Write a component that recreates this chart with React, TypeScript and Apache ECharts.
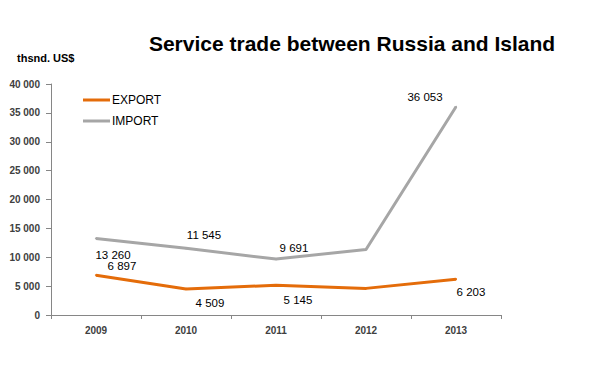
import React, { useEffect, useRef } from "react";
import * as echarts from "echarts";

const years = ["2009", "2010", "2011", "2012", "2013"];
const exportValues = [6897, 4509, 5145, 4610, 6203];
const importValues = [13260, 11545, 9691, 11350, 36053];
const exportShowLabel = [true, true, true, false, true];
const importShowLabel = [true, true, true, false, true];

const fmt = (v: number) => String(v).replace(/\B(?=(\d{3})+(?!\d))/g, " ");

export default function App() {
  const ref = useRef<HTMLDivElement>(null);
  useEffect(() => {
    if (!ref.current) return;
    const chart = echarts.init(ref.current, null, { renderer: "svg" });
    const exportOffsets = [[26, -9], [24, 14], [22, 15], [0, 0], [15, 13]];
    const importOffsets = [[17, 17], [18, -13], [18, -11], [0, 0], [-31, -10]];
    const labelStyle = {
      position: "inside" as const,
      fontFamily: "Liberation Sans, Arial, sans-serif",
      fontSize: 11.5,
      color: "#000",
      align: "center" as const,
      verticalAlign: "middle" as const,
    };
    const mk = (vals: number[], show: boolean[], offs: number[][]) =>
      vals.map((v, i) => ({
        value: v,
        label: { show: show[i], offset: offs[i], formatter: () => fmt(v), ...labelStyle },
      }));
    chart.setOption({
      animation: false,
      backgroundColor: "#fff",
      title: {
        text: "Service trade between Russia and Island",
        left: 352,
        top: 30,
        textAlign: "center",
        textStyle: {
          fontFamily: "Liberation Sans, Arial, sans-serif",
          fontWeight: "bold",
          fontSize: 21,
          lineHeight: 26,
          color: "#000",
        },
        padding: 0,
      },
      graphic: [
        {
          type: "text",
          left: 17,
          top: 52,
          style: {
            text: "thsnd. US$",
            font: "bold 11px 'Liberation Sans', Arial, sans-serif",
            fill: "#000",
          },
        },
      ],
      legend: {
        orient: "vertical",
        left: 78,
        top: 89,
        itemGap: 9,
        itemWidth: 27,
        itemHeight: 3,
        icon: "rect",
        textStyle: {
          fontFamily: "Liberation Sans, Arial, sans-serif",
          fontSize: 12,
          color: "#000",
          padding: [0, 0, 0, -3],
        },
        data: ["EXPORT", "IMPORT"],
      },
      grid: { left: 51, right: 89, top: 84, bottom: 66, containLabel: false },
      xAxis: {
        type: "category",
        data: years,
        boundaryGap: true,
        axisLine: { lineStyle: { color: "#868686", width: 1 } },
        axisTick: { show: true, length: 4, lineStyle: { color: "#868686" } },
        axisLabel: {
          margin: 10,
          fontFamily: "Liberation Sans, Arial, sans-serif",
          fontWeight: "bold",
          fontSize: 10,
          color: "#404040",
        },
        splitLine: { show: false },
      },
      yAxis: {
        type: "value",
        min: 0,
        max: 40000,
        interval: 5000,
        axisLine: { show: true, lineStyle: { color: "#868686", width: 1 } },
        axisTick: { show: true, length: 5, lineStyle: { color: "#868686" } },
        axisLabel: {
          margin: 11,
          formatter: (v: number) => fmt(v),
          fontFamily: "Liberation Sans, Arial, sans-serif",
          fontWeight: "bold",
          fontSize: 10,
          color: "#404040",
        },
        splitLine: { show: false },
      },
      series: [
        {
          name: "EXPORT",
          type: "line",
          data: mk(exportValues, exportShowLabel, exportOffsets),
          symbol: "circle",
          symbolSize: 2,
          lineStyle: { color: "#E46C0A", width: 3 },
          itemStyle: { color: "#E46C0A" },
          z: 3,
        },
        {
          name: "IMPORT",
          type: "line",
          data: mk(importValues, importShowLabel, importOffsets),
          symbol: "circle",
          symbolSize: 2,
          lineStyle: { color: "#A6A6A6", width: 3 },
          itemStyle: { color: "#A6A6A6" },
          z: 2,
        },
      ],
    });
    return () => chart.dispose();
  }, []);
  return <div ref={ref} style={{ width: 590, height: 381, margin: -8 }} />;
}
